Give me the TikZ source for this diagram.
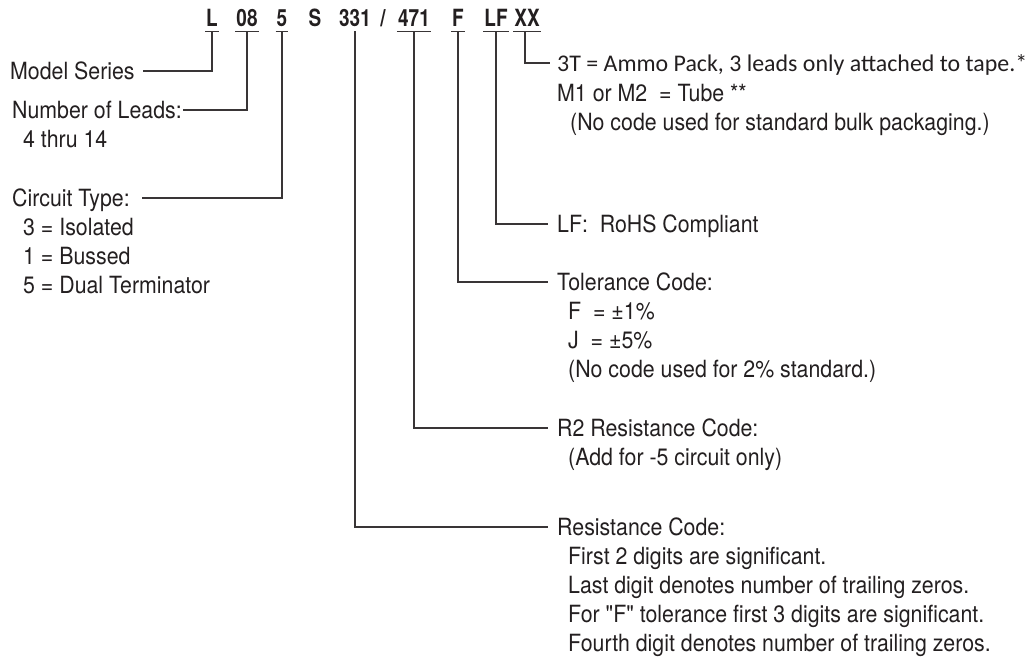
\documentclass[tikz,border=0pt]{standalone}
\usepackage{fontspec}
\newfontfamily\lblfont[FakeStretch=0.9]{TeX Gyre Heros}
\newfontfamily\codefont[FakeStretch=0.8]{TeX Gyre Heros}
\newfontfamily\calfont{Carlito}

\definecolor{ink}{RGB}{35,31,32}

\tikzset{
  code/.style={font=\codefont\fontsize{23.7}{29}\selectfont\bfseries, text=ink, inner xsep=1pt,
               inner ysep=4pt, text height=17pt, text depth=0pt, anchor=base},
  lbl/.style={font=\lblfont\fontsize{23.7}{29}\selectfont, inner sep=0pt, text=ink,
              text height=17pt, text depth=0pt, anchor=west},
  lead/.style={line width=1.2pt, ink!90},
}

\begin{document}
\begin{tikzpicture}[x=1pt,y=-1pt] % one unit per pixel, y runs down
\useasboundingbox (0,0) rectangle (1031,661);

% part number
\node[code] (cL)   at (212,27) {L};
\node[code] (c08)  at (247,27) {08};
\node[code] (c5)   at (282,27) {5};
\node[code] (cS)   at (315,27) {S};
\node[code] (c331) at (355,27) {331};
\node[code] (cSl)  at (383,27) {/};
\node[code] (c471) at (414,27) {471};
\node[code] (cF)   at (458,27) {F};
\node[code] (cLF)  at (496,27) {LF};
\node[code] (cXX)  at (527,27) {XX};

\foreach \c in {cL,c08,c5,c471,cF,cLF,cXX}
\draw[lead] (\c.south west) -- (\c.south east);

% left side
\node[lbl] (ms) at (10,71) {Model Series};
\node[lbl] (nl) at (12,110) {Number of Leads:};
\node[lbl] (nl1) at (23,139) {4 thru 14};
\node[lbl] (ct) at (12,198) {Circuit Type:};
\foreach \t [count=\i] in {3 = Isolated, 1 = Bussed, 5 = Dual Terminator}
\node[lbl] (ct\i) at (23,198+29*\i) {\t};

% right side
\node[lbl, font=\calfont\fontsize{23.9}{29}\selectfont] (xx) at (557,63)
  {3T = Ammo Pack, 3 leads only attached to tape.*};
\node[lbl] (xx1) at (557,93) {M1 or M2 \ = Tube **};
\node[lbl] (xx2) at (570,122) {(No code used for standard bulk packaging.)};

\node[lbl] (lf) at (557,224) {LF: \ RoHS Compliant};

\node[lbl] (tol) at (557,282) {Tolerance Code:};
\foreach \t [count=\i] in {F \ = ±1\%, J \ = ±5\%, (No code used for 2\% standard.)}
\node[lbl] (tol\i) at (568,282+29*\i) {\t};

\node[lbl] (rtwo) at (557,428) {R2 Resistance Code:};
\node[lbl] (rtwo1) at (568,457) {(Add for -5 circuit only)};

\node[lbl] (res) at (557,527) {Resistance Code:};
\foreach \t [count=\i] in {First 2 digits are significant.,
  Last digit denotes number of trailing zeros.,
  For "F" tolerance first 3 digits are significant.,
  Fourth digit denotes number of trailing zeros.}
\node[lbl] (res\i) at (568,527+29*\i) {\t};

% leaders
\draw[lead] (cL.south) |- ([xshift=8pt]ms.east);
\draw[lead] (c08.south) |- ([xshift=1pt]nl.east);
\draw[lead] (c5.south) |- ([xshift=12pt]ct.east);
\draw[lead] (c331.south) |- ([xshift=-9pt]res.west);
\draw[lead] (c471.south) |- ([xshift=-9pt]rtwo.west);
\draw[lead] (cF.south) |- ([xshift=-9pt]tol.west);
\draw[lead] (cLF.south) |- ([xshift=-9pt]lf.west);
\draw[lead] ([xshift=-2pt]cXX.south) |- ([xshift=-7pt]xx.west);

\end{tikzpicture}
\end{document}
